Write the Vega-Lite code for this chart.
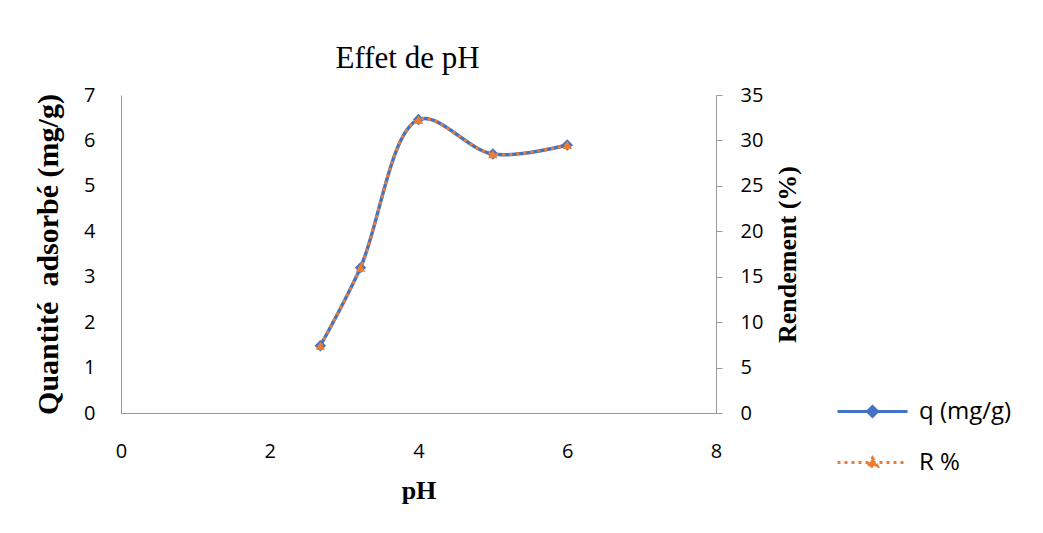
{
  "$schema": "https://vega.github.io/schema/vega-lite/v6.json",
  "width": 595,
  "height": 318,
  "autosize": {"type": "none"},
  "padding": {"left": 121, "top": 95, "right": 327, "bottom": 120},
  "background": "white",
  "title": {
    "text": "Effet de pH",
    "font": "Liberation Serif",
    "fontSize": 31,
    "fontWeight": "normal",
    "color": "#000000",
    "anchor": "middle",
    "offset": 10,
    "dx": -11
  },
  "data": {
    "values": [
      {"pH": 2.68, "q": 1.48, "R": 7.4},
      {"pH": 3.22, "q": 3.2, "R": 16.0},
      {"pH": 4.0, "q": 6.46, "R": 32.3},
      {"pH": 5.0, "q": 5.7, "R": 28.5},
      {"pH": 6.0, "q": 5.9, "R": 29.5}
    ]
  },
  "config": {
    "view": {"stroke": null},
    "axis": {
      "labelFont": "Open Sans",
      "labelFontSize": 20,
      "labelColor": "#000000",
      "titleFont": "Liberation Serif",
      "titleFontWeight": "bold",
      "titleColor": "#000000",
      "domainColor": "#9a9a9a",
      "tickColor": "#9a9a9a",
      "grid": false
    },
    "legend": {
      "labelFont": "Open Sans",
      "labelFontSize": 24,
      "labelColor": "#000000"
    }
  },
  "encoding": {
    "x": {
      "field": "pH",
      "type": "quantitative",
      "scale": {"domain": [0, 8], "nice": false},
      "axis": {
        "title": "pH",
        "titleFontSize": 26,
        "titlePadding": 16,
        "values": [0, 2, 4, 6, 8],
        "ticks": false,
        "labelPadding": 28,
        "labelFlush": false
      }
    }
  },
  "layer": [
    {
      "mark": {
        "type": "line",
        "interpolate": "catmull-rom",
        "strokeWidth": 3.5,
        "point": {"shape": "diamond", "size": 130, "filled": true, "opacity": 1}
      },
      "encoding": {
        "y": {
          "field": "q",
          "type": "quantitative",
          "scale": {"domain": [0, 7], "nice": false},
          "axis": {
            "title": "Quantité\u00a0 adsorbé (mg/g)",
            "titleFontSize": 30,
            "titlePadding": 20,
            "orient": "left",
            "values": [0, 1, 2, 3, 4, 5, 6, 7],
            "ticks": false,
            "labelPadding": 26
          }
        },
        "color": {
          "datum": "q (mg/g)",
          "type": "nominal",
          "scale": {"domain": ["q (mg/g)", "R %"], "range": ["#4472C4", "#ED7D31"]},
          "legend": {
            "title": null,
            "orient": "none",
            "legendX": 725,
            "legendY": 290,
            "symbolSize": 2500,
            "symbolStrokeWidth": 3,
            "labelOffset": 20,
            "rowPadding": 12,
            "encode": {
              "symbols": {
                "update": {
                  "shape": [
                    {"test": "datum.value === 'R %'", "value": "M-1.4,0H1.4M0,-0.18L0.2,0.15L-0.2,0.15Z"},
                    {"value": "M-1.4,0H1.4M0,-0.2L0.2,0L0,0.2L-0.2,0Z"}
                  ],
                  "fill": [
                    {"test": "datum.value === 'R %'", "value": "#ED7D31"},
                    {"value": "#4472C4"}
                  ],
                  "stroke": [
                    {"test": "datum.value === 'R %'", "value": "#ED7D31"},
                    {"value": "#4472C4"}
                  ],
                  "strokeDash": [
                    {"test": "datum.value === 'R %'", "value": [3, 4]},
                    {"value": []}
                  ],
                  "opacity": {"value": 1}
                }
              }
            }
          }
        }
      }
    },
    {
      "mark": {
        "type": "line",
        "interpolate": "catmull-rom",
        "strokeWidth": 3,
        "strokeDash": [3, 4],
        "point": {"shape": "triangle-up", "size": 90, "filled": true, "opacity": 1}
      },
      "encoding": {
        "y": {
          "field": "R",
          "type": "quantitative",
          "scale": {"domain": [0, 35], "nice": false},
          "axis": {
            "title": "Rendement (%)",
            "titleFontSize": 26,
            "titleAngle": 270,
            "titleBaseline": "top",
            "titlePadding": 12,
            "orient": "right",
            "values": [0, 5, 10, 15, 20, 25, 30, 35],
            "ticks": true,
            "tickSize": 6,
            "labelPadding": 18
          }
        },
        "color": {"datum": "R %", "type": "nominal"}
      }
    }
  ],
  "resolve": {"scale": {"y": "independent"}, "axis": {"y": "independent"}}
}
